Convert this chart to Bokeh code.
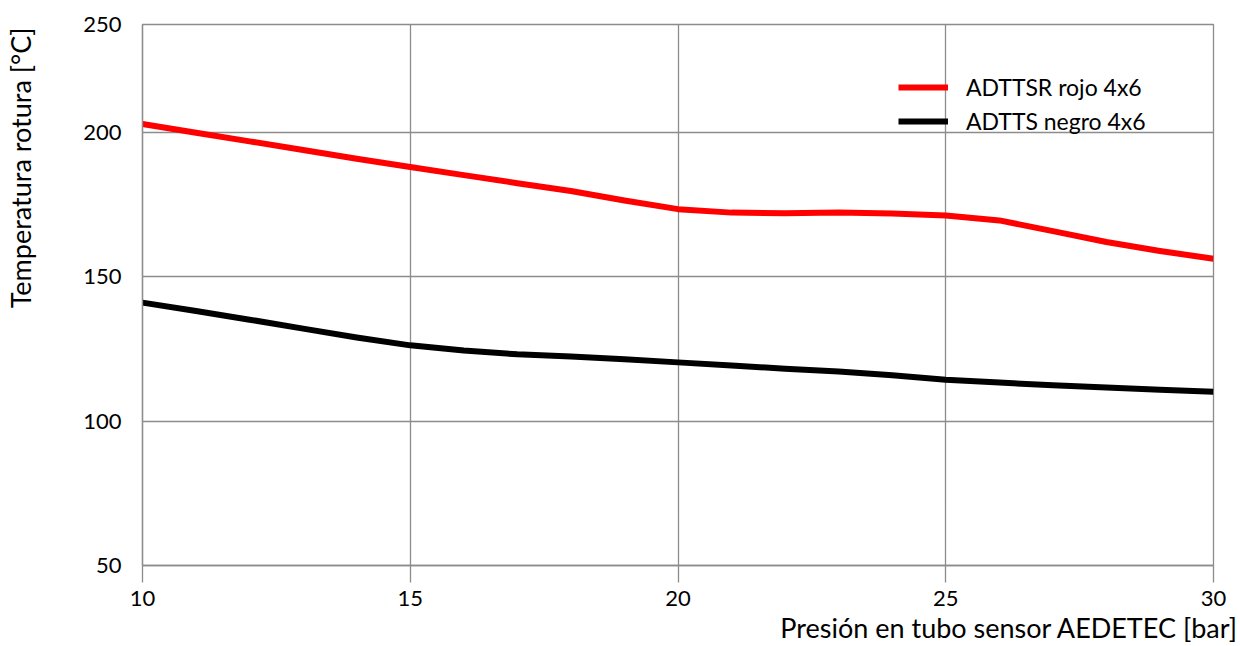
from bokeh.plotting import figure
from bokeh.models import Legend, LegendItem, FixedTicker, Range1d, Title, LinearAxis
from bokeh.embed import file_html
from bokeh.resources import INLINE

presion = [10, 11, 12, 13, 14, 15, 16, 17, 18, 19, 20, 21, 22, 23, 24, 25, 26, 27, 28, 29, 30]
rojo = [203.0, 200.0, 197.0, 194.0, 191.0, 188.1, 185.3, 182.5, 179.8, 176.5, 173.5,
        172.3, 172.1, 172.3, 172.0, 171.3, 169.6, 165.9, 162.1, 159.0, 156.3]
negro = [141.1, 138.2, 135.2, 132.1, 129.0, 126.3, 124.5, 123.2, 122.4, 121.5, 120.4,
         119.3, 118.2, 117.2, 115.9, 114.4, 113.4, 112.5, 111.7, 110.9, 110.2]
nombres = ["ADTTSR rojo 4x6", "ADTTS negro 4x6"]
x_ticks = [10, 15, 20, 25, 30]
y_ticks = [50, 100, 150, 200, 237.5]
y_tick_labels = {237.5: "250"}

FONT = "Lato"
GRAY = "#8c8c8c"
FS = "22px"

p = figure(width=1238, height=646, output_backend="svg", toolbar_location=None,
           x_range=Range1d(10, 30), y_range=Range1d(50, 237.5),
           min_border_left=142, min_border_right=25, min_border_top=24, min_border_bottom=81)

p.outline_line_color = GRAY
p.outline_line_width = 1.3

for g in (p.xgrid, p.ygrid):
    g.grid_line_color = GRAY
    g.grid_line_width = 1.3
p.xgrid.ticker = FixedTicker(ticks=x_ticks)
p.ygrid.ticker = FixedTicker(ticks=y_ticks)

p.xaxis.ticker = FixedTicker(ticks=x_ticks)
p.yaxis.ticker = FixedTicker(ticks=y_ticks)
p.yaxis.major_label_overrides = y_tick_labels

for ax in (p.xaxis, p.yaxis):
    ax.axis_line_color = GRAY
    ax.axis_line_width = 1.3
    ax.major_tick_line_color = GRAY
    ax.major_tick_line_width = 1.3
    ax.minor_tick_line_color = None
    ax.major_tick_in = 0
    ax.major_label_text_font = FONT
    ax.major_label_text_font_size = FS
    ax.major_label_text_color = "black"
p.xaxis.major_tick_out = 17
p.xaxis.major_label_standoff = 8
p.yaxis.major_tick_out = 0
p.yaxis.major_label_standoff = 21

r1 = p.line(presion, rojo, line_color="#ff0000", line_width=6, line_join="round")
r2 = p.line(presion, negro, line_color="black", line_width=6, line_join="round")

legend = Legend(items=[LegendItem(label=nombres[0], renderers=[r1]),
                       LegendItem(label=nombres[1], renderers=[r2])],
                location=(756, 427))
legend.glyph_width = 50
legend.glyph_height = 34
legend.label_height = 34
legend.spacing = 0
legend.padding = 0
legend.margin = 0
legend.label_standoff = 18
legend.border_line_color = None
legend.background_fill_alpha = 0
legend.label_text_font = FONT
legend.label_text_font_size = "23px"
legend.label_text_color = "black"
p.add_layout(legend)

# invisible spacer axis pushes the y title outward
spacer = LinearAxis(ticker=FixedTicker(ticks=[50]), major_tick_out=44, major_tick_in=0,
                    axis_line_color=None, major_tick_line_color=None,
                    minor_tick_line_color=None, major_label_standoff=0,
                    major_label_overrides={50: ""}, major_label_text_font_size="0px")
p.add_layout(spacer, "left")

ylab = Title(text="Temperatura rotura [°C]", align="right", offset=3, standoff=0,
             text_font=FONT, text_font_size="27px", text_font_style="normal", text_color="black")
xlab = Title(text="Presión en tubo sensor  AEDETEC [bar]", align="right", offset=-32,
             standoff=0, text_font=FONT, text_font_size="27px", text_font_style="normal",
             text_color="black")
p.add_layout(ylab, "left")
p.add_layout(xlab, "below")

open("out.html", "w").write(file_html(p, INLINE))
